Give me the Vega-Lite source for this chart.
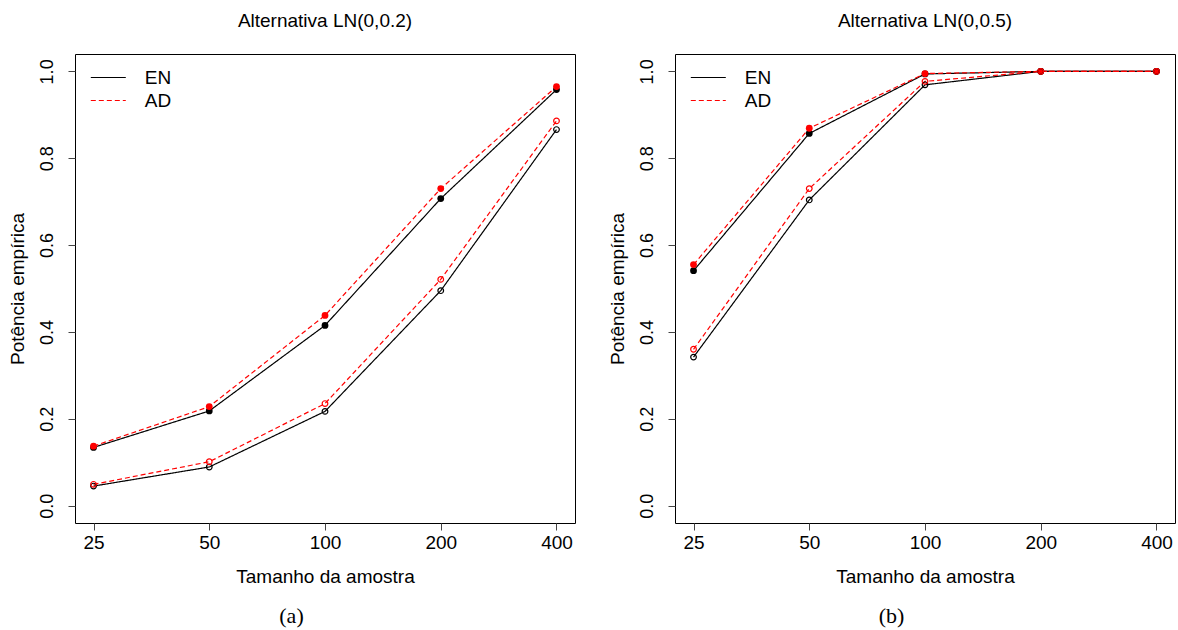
{
  "$schema": "https://vega.github.io/schema/vega-lite/v6.json",
  "background": "white",
  "padding": {"left": 7, "top": 11, "right": 2, "bottom": 2},
  "config": {
    "font": "Liberation Sans",
    "view": {"stroke": "black", "strokeWidth": 1},
    "axis": {"grid": false, "domain": false, "tickColor": "#444", "tickSize": 7, "labelColor": "black", "titleColor": "black", "labelFont": "Liberation Sans", "titleFont": "Liberation Sans", "titleFontWeight": "normal"},
    "title": {"color": "black", "fontWeight": "normal"}
  },
  "datasets": {
    "d": [
      {"p": "a", "n": 25, "test": "EN", "type": "filled", "v": 0.134},
      {"p": "a", "n": 50, "test": "EN", "type": "filled", "v": 0.218},
      {"p": "a", "n": 100, "test": "EN", "type": "filled", "v": 0.415},
      {"p": "a", "n": 200, "test": "EN", "type": "filled", "v": 0.707},
      {"p": "a", "n": 400, "test": "EN", "type": "filled", "v": 0.958},
      {"p": "a", "n": 25, "test": "EN", "type": "open", "v": 0.045},
      {"p": "a", "n": 50, "test": "EN", "type": "open", "v": 0.089},
      {"p": "a", "n": 100, "test": "EN", "type": "open", "v": 0.217},
      {"p": "a", "n": 200, "test": "EN", "type": "open", "v": 0.495},
      {"p": "a", "n": 400, "test": "EN", "type": "open", "v": 0.866},
      {"p": "a", "n": 25, "test": "AD", "type": "filled", "v": 0.137},
      {"p": "a", "n": 50, "test": "AD", "type": "filled", "v": 0.228},
      {"p": "a", "n": 100, "test": "AD", "type": "filled", "v": 0.438},
      {"p": "a", "n": 200, "test": "AD", "type": "filled", "v": 0.730},
      {"p": "a", "n": 400, "test": "AD", "type": "filled", "v": 0.965},
      {"p": "a", "n": 25, "test": "AD", "type": "open", "v": 0.049},
      {"p": "a", "n": 50, "test": "AD", "type": "open", "v": 0.101},
      {"p": "a", "n": 100, "test": "AD", "type": "open", "v": 0.235},
      {"p": "a", "n": 200, "test": "AD", "type": "open", "v": 0.521},
      {"p": "a", "n": 400, "test": "AD", "type": "open", "v": 0.886},
      {"p": "b", "n": 25, "test": "EN", "type": "filled", "v": 0.541},
      {"p": "b", "n": 50, "test": "EN", "type": "filled", "v": 0.857},
      {"p": "b", "n": 100, "test": "EN", "type": "filled", "v": 0.994},
      {"p": "b", "n": 200, "test": "EN", "type": "filled", "v": 1.0},
      {"p": "b", "n": 400, "test": "EN", "type": "filled", "v": 1.0},
      {"p": "b", "n": 25, "test": "EN", "type": "open", "v": 0.342},
      {"p": "b", "n": 50, "test": "EN", "type": "open", "v": 0.704},
      {"p": "b", "n": 100, "test": "EN", "type": "open", "v": 0.969},
      {"p": "b", "n": 200, "test": "EN", "type": "open", "v": 1.0},
      {"p": "b", "n": 400, "test": "EN", "type": "open", "v": 1.0},
      {"p": "b", "n": 25, "test": "AD", "type": "filled", "v": 0.555},
      {"p": "b", "n": 50, "test": "AD", "type": "filled", "v": 0.869},
      {"p": "b", "n": 100, "test": "AD", "type": "filled", "v": 0.995},
      {"p": "b", "n": 200, "test": "AD", "type": "filled", "v": 1.0},
      {"p": "b", "n": 400, "test": "AD", "type": "filled", "v": 1.0},
      {"p": "b", "n": 25, "test": "AD", "type": "open", "v": 0.360},
      {"p": "b", "n": 50, "test": "AD", "type": "open", "v": 0.730},
      {"p": "b", "n": 100, "test": "AD", "type": "open", "v": 0.977},
      {"p": "b", "n": 200, "test": "AD", "type": "open", "v": 1.0},
      {"p": "b", "n": 400, "test": "AD", "type": "open", "v": 1.0}
    ]
  },
  "spacing": 31,
  "resolve": {
    "scale": {"color": "independent", "strokeDash": "independent", "x": "independent", "y": "independent"},
    "legend": {"color": "independent", "strokeDash": "independent"}
  },
  "hconcat": [
    {
      "title": {"text": "(a)", "orient": "bottom", "font": "Liberation Serif", "fontSize": 22, "fontWeight": "normal", "offset": 19, "anchor": "middle"},
      "vconcat": [
        {
          "width": 500,
          "height": 469,
          "title": {"text": "Alternativa LN(0,0.2)", "fontSize": 19, "fontWeight": "normal", "anchor": "middle", "frame": "group", "offset": 23},
          "data": {"name": "d"},
          "transform": [{"filter": "datum.p === 'a'"}],
          "encoding": {
            "x": {"field": "n", "type": "quantitative", "scale": {"type": "log", "base": 2, "domain": [22.375, 446.9], "nice": false, "zero": false}, "axis": {"values": [25, 50, 100, 200, 400], "format": "d", "title": "Tamanho da amostra", "labelFontSize": 19, "titleFontSize": 19, "labelPadding": 3, "titlePadding": 15, "labelFlush": false, "labelOverlap": false}},
            "y": {"field": "v", "type": "quantitative", "scale": {"domain": [-0.04, 1.04], "nice": false, "zero": false}, "axis": {"values": [0, 0.2, 0.4, 0.6, 0.8, 1], "format": ".1f", "labelAngle": -90, "labelFontSize": 18, "title": "Potência empírica", "titleFontSize": 19, "labelPadding": 12, "titlePadding": 11, "labelFlush": false}}
          },
          "layer": [
            {
              "mark": {"type": "line", "strokeWidth": 1.2},
              "encoding": {
                "color": {"field": "test", "type": "nominal", "scale": {"domain": ["EN", "AD"], "range": ["black", "red"]}, "legend": {"title": null, "orient": "none", "legendX": 23.8, "legendY": 14, "symbolType": "M-3,0L3,0", "symbolSize": 136, "symbolStrokeWidth": 1.2, "labelFontSize": 19, "labelOffset": 27, "rowPadding": 3, "padding": 0, "labelFont": "Liberation Sans", "labelColor": "black", "encode": {"symbols": {"update": {"strokeDash": {"signal": "datum.value === 'AD' ? [5, 3] : [1, 0]"}}}}}},
                "strokeDash": {"field": "test", "type": "nominal", "scale": {"domain": ["EN", "AD"], "range": [[1, 0], [5, 3]]}, "legend": null},
                "detail": {"field": "type"}
              }
            },
            {
              "transform": [{"filter": "datum.type === 'filled'"}],
              "mark": {"type": "point", "shape": "circle", "filled": true, "size": 46, "opacity": 1},
              "encoding": {"color": {"field": "test", "type": "nominal", "scale": {"domain": ["EN", "AD"], "range": ["black", "red"]}, "legend": null}}
            },
            {
              "transform": [{"filter": "datum.type === 'open'"}],
              "mark": {"type": "point", "shape": "circle", "filled": false, "size": 32, "strokeWidth": 1.2, "opacity": 1},
              "encoding": {"color": {"field": "test", "type": "nominal", "scale": {"domain": ["EN", "AD"], "range": ["black", "red"]}, "legend": null}}
            }
          ]
        }
      ]
    },
    {
      "title": {"text": "(b)", "orient": "bottom", "font": "Liberation Serif", "fontSize": 22, "fontWeight": "normal", "offset": 19, "anchor": "middle"},
      "vconcat": [
        {
          "width": 500,
          "height": 469,
          "title": {"text": "Alternativa LN(0,0.5)", "fontSize": 19, "fontWeight": "normal", "anchor": "middle", "frame": "group", "offset": 23},
          "data": {"name": "d"},
          "transform": [{"filter": "datum.p === 'b'"}],
          "encoding": {
            "x": {"field": "n", "type": "quantitative", "scale": {"type": "log", "base": 2, "domain": [22.375, 446.9], "nice": false, "zero": false}, "axis": {"values": [25, 50, 100, 200, 400], "format": "d", "title": "Tamanho da amostra", "labelFontSize": 19, "titleFontSize": 19, "labelPadding": 3, "titlePadding": 15, "labelFlush": false, "labelOverlap": false}},
            "y": {"field": "v", "type": "quantitative", "scale": {"domain": [-0.04, 1.04], "nice": false, "zero": false}, "axis": {"values": [0, 0.2, 0.4, 0.6, 0.8, 1], "format": ".1f", "labelAngle": -90, "labelFontSize": 18, "title": "Potência empírica", "titleFontSize": 19, "labelPadding": 12, "titlePadding": 11, "labelFlush": false}}
          },
          "layer": [
            {
              "mark": {"type": "line", "strokeWidth": 1.2},
              "encoding": {
                "color": {"field": "test", "type": "nominal", "scale": {"domain": ["EN", "AD"], "range": ["black", "red"]}, "legend": {"title": null, "orient": "none", "legendX": 23.8, "legendY": 14, "symbolType": "M-3,0L3,0", "symbolSize": 136, "symbolStrokeWidth": 1.2, "labelFontSize": 19, "labelOffset": 27, "rowPadding": 3, "padding": 0, "labelFont": "Liberation Sans", "labelColor": "black", "encode": {"symbols": {"update": {"strokeDash": {"signal": "datum.value === 'AD' ? [5, 3] : [1, 0]"}}}}}},
                "strokeDash": {"field": "test", "type": "nominal", "scale": {"domain": ["EN", "AD"], "range": [[1, 0], [5, 3]]}, "legend": null},
                "detail": {"field": "type"}
              }
            },
            {
              "transform": [{"filter": "datum.type === 'filled'"}],
              "mark": {"type": "point", "shape": "circle", "filled": true, "size": 46, "opacity": 1},
              "encoding": {"color": {"field": "test", "type": "nominal", "scale": {"domain": ["EN", "AD"], "range": ["black", "red"]}, "legend": null}}
            },
            {
              "transform": [{"filter": "datum.type === 'open'"}],
              "mark": {"type": "point", "shape": "circle", "filled": false, "size": 32, "strokeWidth": 1.2, "opacity": 1},
              "encoding": {"color": {"field": "test", "type": "nominal", "scale": {"domain": ["EN", "AD"], "range": ["black", "red"]}, "legend": null}}
            }
          ]
        }
      ]
    }
  ]
}
